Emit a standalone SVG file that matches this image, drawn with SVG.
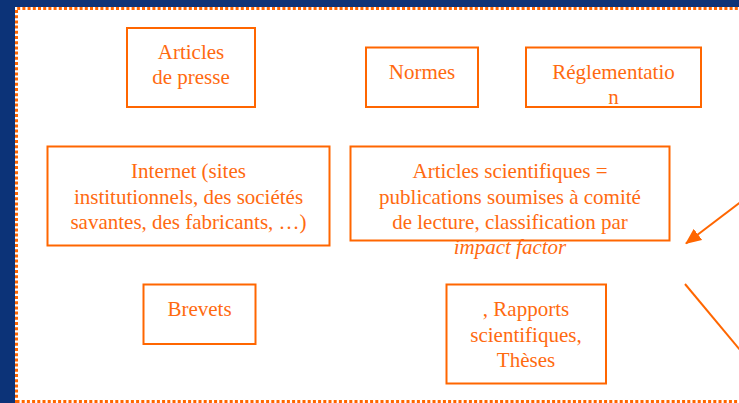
<svg xmlns="http://www.w3.org/2000/svg" width="739" height="403" viewBox="0 0 739 403">
<defs>
<style>
.box{fill:#ffffff;stroke:#ff6600;stroke-width:2}
.t{font-family:'Liberation Serif','Times New Roman','DejaVu Serif',serif;font-size:21px;fill:#ff6a10;text-anchor:middle}
.i{font-style:italic}
.c{stroke:#ff6600;stroke-width:2;fill:none}
.frame{stroke:#ff6600;stroke-width:3;stroke-dasharray:3 2.2;fill:none}
</style>
<marker id="ah" markerWidth="16" markerHeight="14" refX="15" refY="7" orient="auto" markerUnits="userSpaceOnUse" viewBox="0 0 16 14">
<path d="M0,0 L16,7 L0,14 z" fill="#ff6600"/>
</marker>
</defs>
<rect x="0" y="0" width="739" height="403" fill="#0c3378"/>
<rect x="15" y="7" width="724" height="396" fill="#ffffff"/>
<path class="frame" d="M16.5,403 L16.5,8.5 L739,8.5"/>
<path class="frame" d="M16.5,401.5 L739,401.5"/>

<g id="articles-presse">
<rect class="box" x="127" y="28" width="128" height="79"/>
<text class="t" font-family="Liberation Serif, serif" x="191" y="59">Articles</text>
<text class="t" font-family="Liberation Serif, serif" x="191" y="84">de presse</text>
</g>
<g id="normes">
<rect class="box" x="366" y="47.5" width="112" height="59.5"/>
<text class="t" font-family="Liberation Serif, serif" x="422" y="79">Normes</text>
</g>
<g id="reglementation">
<rect class="box" x="526" y="47.5" width="175" height="59.5"/>
<text class="t" font-family="Liberation Serif, serif" x="613.5" y="79">Réglementatio</text>
<text class="t" font-family="Liberation Serif, serif" x="613.5" y="104">n</text>
</g>
<g id="internet">
<rect class="box" x="47.5" y="146.5" width="282" height="99"/>
<text class="t" font-family="Liberation Serif, serif" x="188.5" y="177.5">Internet (sites</text>
<text class="t" font-family="Liberation Serif, serif" x="188.5" y="203.5">institutionnels, des sociétés</text>
<text class="t" font-family="Liberation Serif, serif" x="188.5" y="229">savantes, des fabricants, …)</text>
</g>
<g id="articles-scientifiques">
<rect class="box" x="350.5" y="146.5" width="319" height="94"/>
<text class="t" font-family="Liberation Serif, serif" x="510" y="177.5">Articles scientifiques =</text>
<text class="t" font-family="Liberation Serif, serif" x="510" y="203.5">publications soumises à comité</text>
<text class="t" font-family="Liberation Serif, serif" x="510" y="229">de lecture, classification par</text>
<text class="t i" font-family="Liberation Serif, serif" x="510" y="254">impact factor</text>
</g>
<g id="brevets">
<rect class="box" x="143.5" y="284.5" width="112" height="59.5"/>
<text class="t" font-family="Liberation Serif, serif" x="199.5" y="316">Brevets</text>
</g>
<g id="rapports">
<rect class="box" x="446.5" y="284.5" width="159.5" height="99"/>
<text class="t" font-family="Liberation Serif, serif" x="526" y="316">, Rapports</text>
<text class="t" font-family="Liberation Serif, serif" x="526" y="342">scientifiques,</text>
<text class="t" font-family="Liberation Serif, serif" x="526" y="367">Thèses</text>
</g>
<g id="connectors">
<line class="c" x1="740" y1="202.5" x2="686" y2="243.5" marker-end="url(#ah)"/>
<line class="c" x1="685" y1="284" x2="740" y2="350"/>
</g>
</svg>
